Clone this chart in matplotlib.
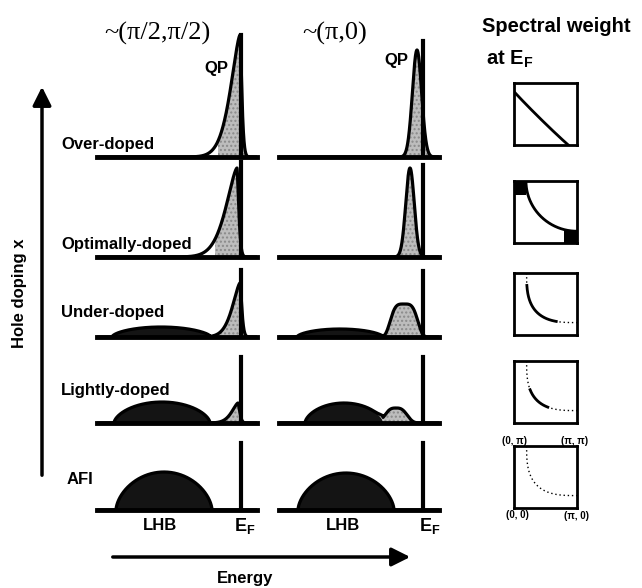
import numpy as np
import matplotlib.pyplot as plt
from matplotlib.patches import Rectangle

plt.rcParams['font.family'] = ['Liberation Sans', 'DejaVu Sans']
plt.rcParams['mathtext.fontset'] = 'custom'
plt.rcParams['mathtext.rm'] = 'Liberation Sans:bold'
plt.rcParams['mathtext.bf'] = 'Liberation Sans:bold'

W, H = 642, 588

rows = ['Over-doped', 'Optimally-doped', 'Under-doped', 'Lightly-doped', 'AFI']

# nodal ~(pi/2,pi/2) spectra, energy relative to E_F
nodal_lhb_pos = [-0.80, -0.80, -0.80, -0.79, -0.77]
nodal_lhb_hw = [0.48, 0.48, 0.49, 0.48, 0.48]
nodal_lhb_amp = [0.0, 0.0, 0.10, 0.21, 0.38]
nodal_qp_pos = [-0.01, -0.04, -0.01, -0.03, 0.0]
nodal_qp_w = [0.137, 0.16, 0.11, 0.09, 0.1]
nodal_qp_amp = [1.22, 0.89, 0.54, 0.20, 0.0]
nodal_ef = [1.22, 0.95, 0.67, 0.66, 0.67]

# antinodal ~(pi,0) spectra
anti_lhb_pos = [-0.83, -0.83, -0.83, -0.79, -0.77]
anti_lhb_hw = [0.43, 0.43, 0.43, 0.39, 0.48]
anti_lhb_amp = [0.0, 0.0, 0.08, 0.20, 0.37]
anti_qp_pos = [-0.06, -0.13, -0.19, -0.27, 0.0]
anti_qp_w = [0.065, 0.06, 0.15, 0.13, 0.1]
anti_qp_pow = [2.0, 2.0, 4.0, 3.0, 2.0]
anti_qp_amp = [1.07, 0.89, 0.33, 0.15, 0.0]
anti_ef = [1.16, 0.92, 0.66, 0.66, 0.67]

# Fermi surface sketches: superellipse around (pi, pi)
fs_r = [1.12, 0.81, 0.80, 0.80, 0.80]
fs_p = [1.05, 2.0, 3.0, 3.0, 3.0]
fs_arc = [(0.0, 1.0), (0.0, 1.0), (0.08, 0.83), (0.29, 0.71), (0.0, 0.0)]
fs_corner = [False, True, False, False, False]
corner_labels = ['(0, π)', '(π, π)', '(0, 0)', '(π, 0)']

# layout (pixels)
row_base = [157, 257, 337, 423, 510]
label_y = [144, 245, 312, 391, 480]
ef_x = [241, 423]
box_top = [83, 181, 273, 361, 446]

E = np.linspace(-1.44, 0.16, 2000)
dark = '#141414'
gray = '#bdbdbd'


def lhb_shape(pos, hw, amp):
    u = 1 - ((E - pos) / hw) ** 2
    return amp * np.clip(u, 0, None) ** 0.6


def nodal_qp(pos, w, amp):
    d = E - pos
    left = np.exp(-(np.abs(d) / w) ** 1.5)
    right = np.exp(-(np.abs(d) / 0.025) ** 1.5)
    return amp * np.where(d < 0, left, right)


def anti_qp(pos, w, p, amp):
    return amp * np.exp(-np.abs((E - pos) / w) ** p)


def panel(xef, base, lhb, qp, ef_h, gray_from):
    ax = fig.add_axes([(xef - 144) / W, (H - (base + 5)) / H, 160 / W, 135 / H])
    ax.set_xlim(-1.44, 0.16)
    ax.set_ylim(-0.05, 1.30)
    ax.axis('off')
    tot = lhb + qp
    ax.fill_between(E, 0, lhb, color=dark, lw=0)
    mask = (qp > 0.005) & (E >= gray_from)
    ax.fill_between(E, lhb, tot, where=mask, facecolor=gray, edgecolor='#8a8a8a',
                    hatch='....', lw=0)
    ax.plot(E, tot, color='k', lw=2.3, solid_capstyle='butt')
    ax.plot([-1.44, 0.16], [0, 0], color='k', lw=3.5, clip_on=False)
    ax.plot([0, 0], [0, ef_h], color='k', lw=3, clip_on=False)
    return ax


fig = plt.figure(figsize=(W / 100, H / 100), dpi=100)
bg = fig.add_axes([0, 0, 1, 1])
bg.set_xlim(0, W)
bg.set_ylim(H, 0)
bg.axis('off')

for i in range(len(rows)):
    lhb = lhb_shape(nodal_lhb_pos[i], nodal_lhb_hw[i], nodal_lhb_amp[i])
    qp = nodal_qp(nodal_qp_pos[i], nodal_qp_w[i], nodal_qp_amp[i])
    panel(ef_x[0], row_base[i], lhb, qp, nodal_ef[i], nodal_qp_pos[i] - 0.22)

    lhb = lhb_shape(anti_lhb_pos[i], anti_lhb_hw[i], anti_lhb_amp[i])
    qp = anti_qp(anti_qp_pos[i], anti_qp_w[i], anti_qp_pow[i], anti_qp_amp[i])
    panel(ef_x[1], row_base[i], lhb, qp, anti_ef[i], -2)

    bg.text(61 if rows[i] != 'AFI' else 67, label_y[i], rows[i], fontsize=12,
            fontweight='bold', ha='left', va='center')

# Fermi surface boxes
t = np.linspace(0, np.pi / 2, 500)
for i in range(len(fs_r)):
    ax = fig.add_axes([514 / W, (H - (box_top[i] + 62)) / H, 63 / W, 62 / H])
    ax.set_xlim(0, 1)
    ax.set_ylim(0, 1)
    ax.set_xticks([])
    ax.set_yticks([])
    for s in ax.spines.values():
        s.set_linewidth(2)
    x = 1 - fs_r[i] * np.cos(t) ** (2 / fs_p[i])
    y = 1 - fs_r[i] * np.sin(t) ** (2 / fs_p[i])
    a, b = fs_arc[i]
    solid = (t >= a * np.pi / 2) & (t <= b * np.pi / 2)
    ax.plot(x, y, color='k', lw=1.0, ls=(0, (1, 2)))
    if b > a:
        ax.plot(x[solid], y[solid], color='k', lw=2)
    if fs_corner[i]:
        ax.add_patch(Rectangle((0, 0.78), 0.19, 0.22, color='k', lw=0))
        ax.add_patch(Rectangle((0.80, 0), 0.20, 0.20, color='k', lw=0))

bg.text(515, 441, corner_labels[0], fontsize=7, fontweight='bold', ha='center', va='center')
bg.text(575, 441, corner_labels[1], fontsize=7, fontweight='bold', ha='center', va='center')
bg.text(517, 515, corner_labels[2], fontsize=7, fontweight='bold', ha='center', va='center')
bg.text(577, 516, corner_labels[3], fontsize=7, fontweight='bold', ha='center', va='center')

# titles
bg.text(157, 33, '~(π/2,π/2)', fontsize=19, family='Liberation Serif',
        ha='center', va='center')
bg.text(335, 33, '~(π,0)', fontsize=19, family='Liberation Serif',
        ha='center', va='center')
bg.text(482, 27, 'Spectral weight', fontsize=14.5, fontweight='bold', ha='left', va='center')
bg.text(486, 59, r'at $\mathrm{E_F}$', fontsize=14.5, fontweight='bold', ha='left', va='center')

bg.text(216, 68, 'QP', fontsize=12, fontweight='bold', ha='center', va='center')
bg.text(396, 60, 'QP', fontsize=12, fontweight='bold', ha='center', va='center')

bg.text(160, 526, 'LHB', fontsize=12, fontweight='bold', ha='center', va='center')
bg.text(343, 526, 'LHB', fontsize=12, fontweight='bold', ha='center', va='center')
bg.text(245, 526, r'$\mathrm{E_F}$', fontsize=13, ha='center', va='center')
bg.text(430, 526, r'$\mathrm{E_F}$', fontsize=13, ha='center', va='center')

# axes arrows
bg.annotate('', xy=(42, 84), xytext=(42, 478),
            arrowprops=dict(arrowstyle='-|>', lw=2.5, color='k', mutation_scale=28))
bg.text(20, 293, 'Hole doping x', fontsize=12, fontweight='bold', rotation=90,
        ha='center', va='center')
bg.annotate('', xy=(413, 557), xytext=(110, 557),
            arrowprops=dict(arrowstyle='-|>', lw=2.5, color='k', mutation_scale=28))
bg.text(245, 578, 'Energy', fontsize=12, fontweight='bold', ha='center', va='center')

fig.savefig('out.png', dpi=100)
